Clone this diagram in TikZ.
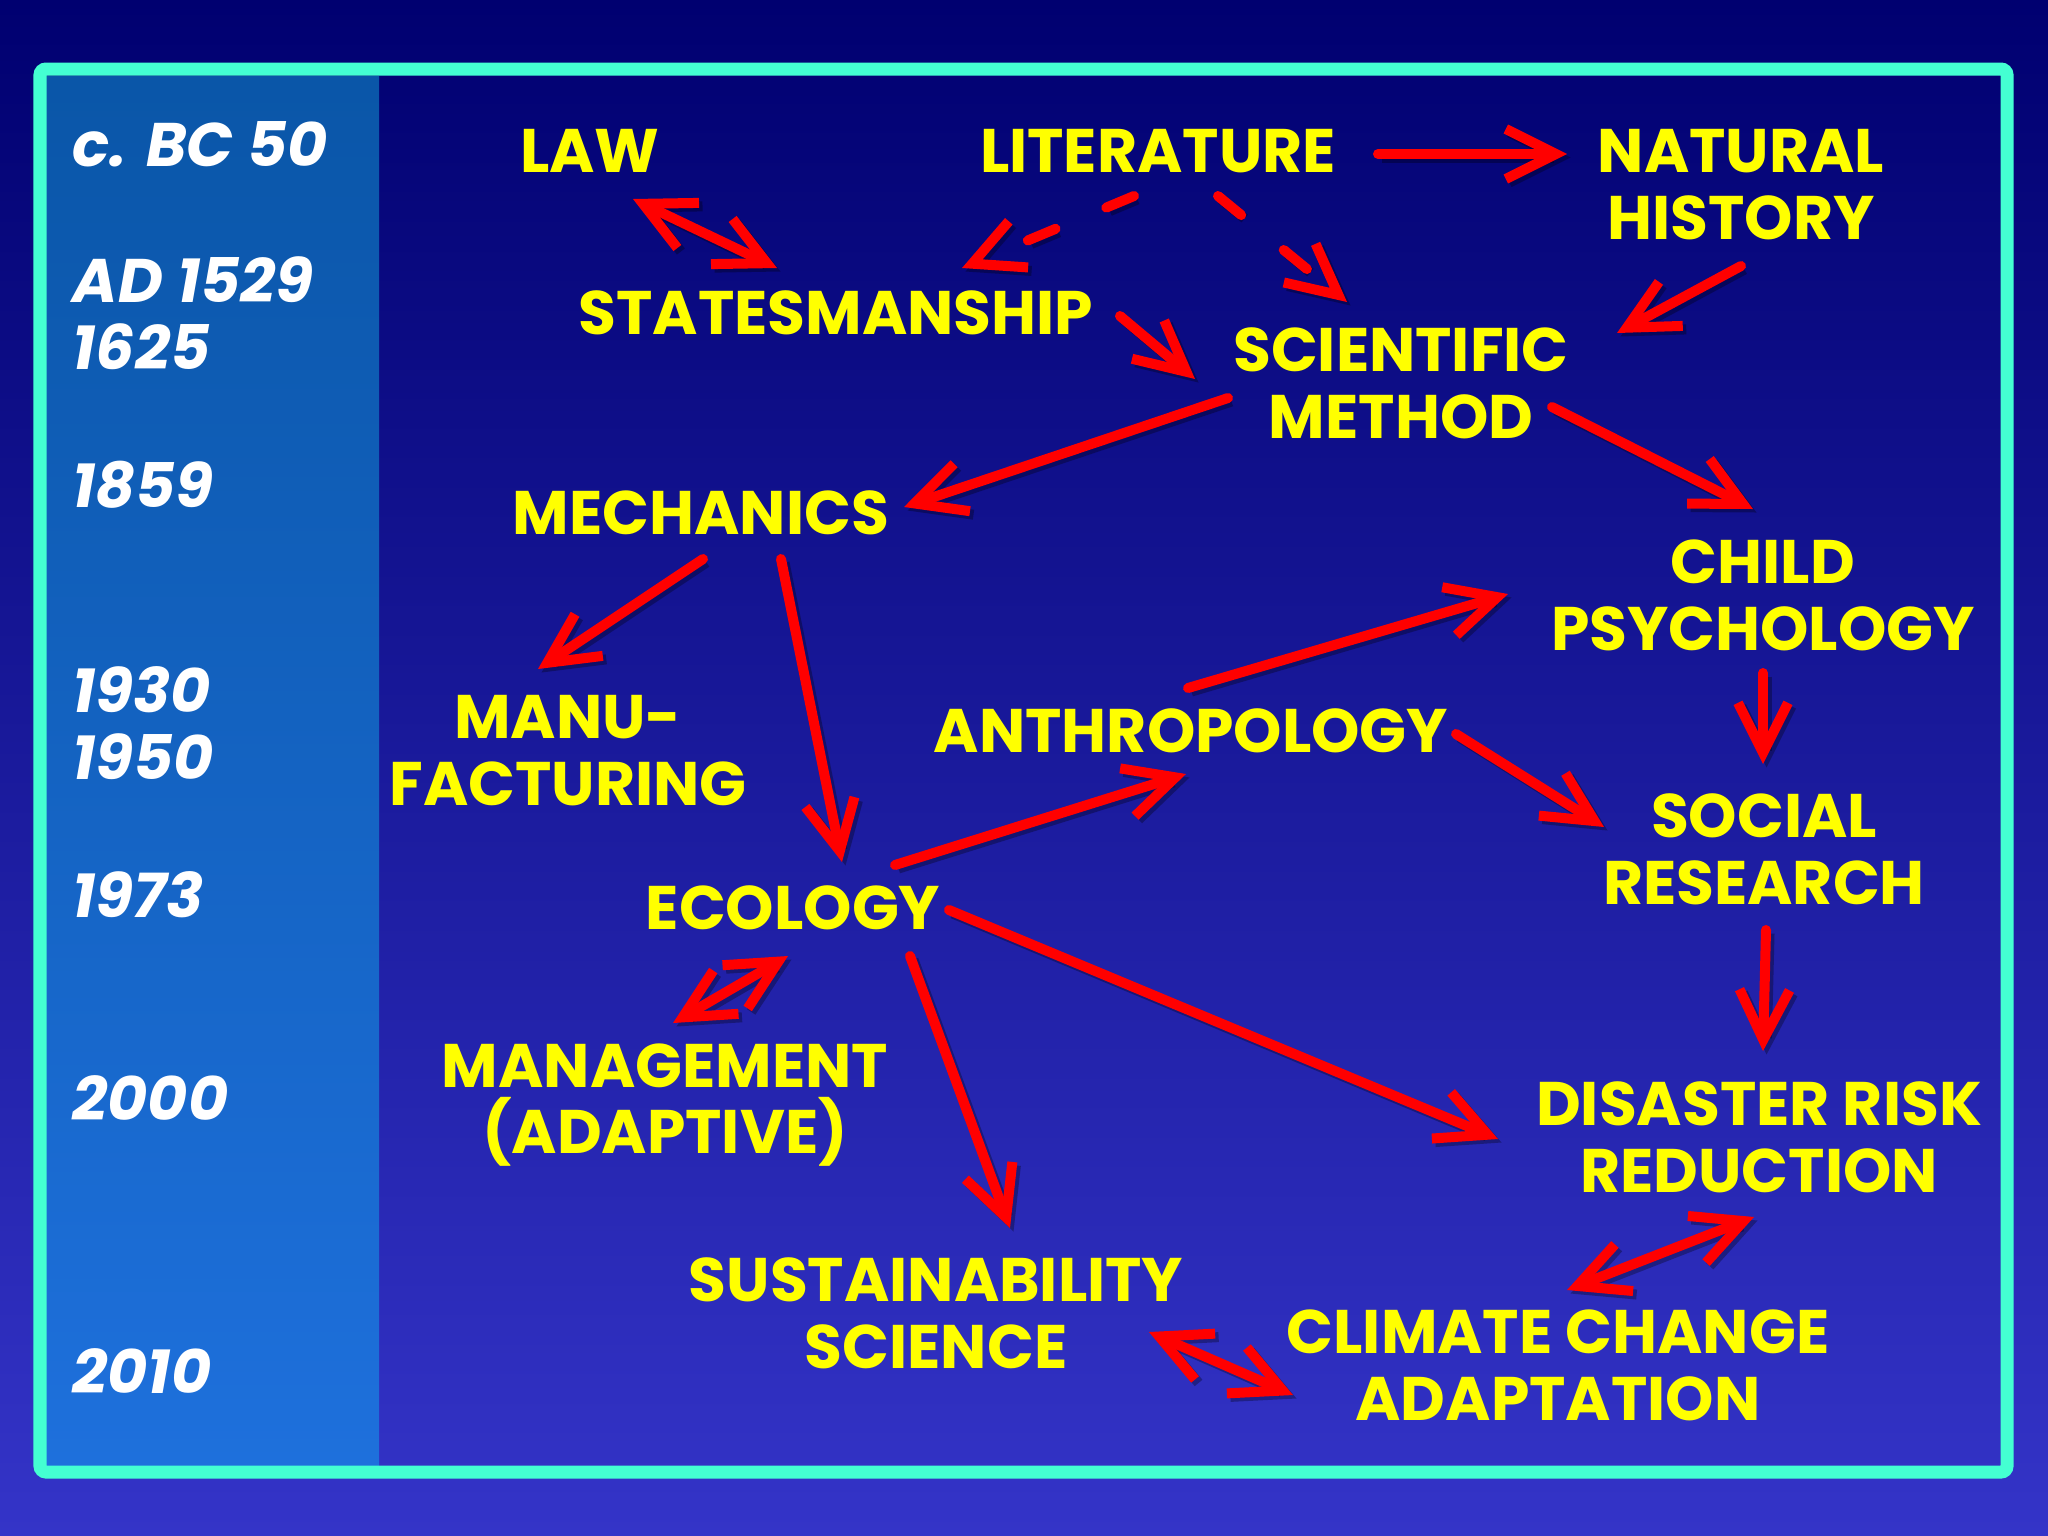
\documentclass[tikz,border=0pt]{standalone}
\usepackage{fontspec}
\setmainfont{Poppins}
\usetikzlibrary{arrows.meta}

\definecolor{slidetop}{HTML}{000070}
\definecolor{slidebot}{HTML}{3434C8}
\definecolor{coltop}{HTML}{0A56A8}
\definecolor{colbot}{HTML}{1E70DC}
\definecolor{framecyan}{HTML}{44FFD2}
\definecolor{topicyellow}{HTML}{FFFF00}
\definecolor{arrowred}{HTML}{FF0000}

\begin{document}
\begin{tikzpicture}[x=0.01cm, y=-0.01cm,
  topic/.style={text=topicyellow, align=center, inner sep=0pt,
    font=\bfseries\fontsize{17.5}{19}\selectfont},
  era/.style={text=white, anchor=west, align=left, inner sep=0pt,
    font=\bfseries\itshape\fontsize{17.5}{19}\selectfont},
  tip/.style={line width=0.1cm, line cap=round,
    -{Straight Barb[length=5mm,width=5mm]}},
  link/.style={tip, draw=arrowred,
    preaction={draw=black, opacity=.3, line width=0.1cm,
      transform canvas={shift={(0.035cm,-0.035cm)}}}},
  both/.style={link, {Straight Barb[length=5mm,width=5mm]}-{Straight Barb[length=5mm,width=5mm]}},
  hint/.style={tip, draw=arrowred, dash pattern=on 3mm off 5.5mm,
    preaction={draw=black, opacity=.3, line width=0.1cm, dash pattern=on 3mm off 5.5mm,
      transform canvas={shift={(0.035cm,-0.035cm)}}}}]
\useasboundingbox (0,0) rectangle (2048,1536);
% slide background and time column
\shade[top color=slidetop, bottom color=slidebot] (0,0) rectangle (2048,1536);
\shade[top color=coltop, bottom color=colbot] (46,76) rectangle (379,1465);
\draw[framecyan, line width=0.13cm, rounded corners=0.06cm] (40,69) rectangle (2007,1472);

% dates
\node[era] (bc50) at (72,144) {c. BC 50};
\node[era] (ad1529) at (72,313) {AD 1529\\1625};
\node[era] (y1859) at (72,485) {1859};
\node[era] (y1930) at (72,723) {1930\\1950};
\node[era] (y1973) at (72,895) {1973};
\node[era] (y2000) at (72,1098) {2000};
\node[era] (y2010) at (72,1371) {2010};

% disciplines
\node[topic] (law) at (590,151) {LAW};
\node[topic] (lit) at (1158,151) {LITERATURE};
\node[topic] (nat) at (1741,185) {NATURAL\\HISTORY};
\node[topic] (state) at (836,313) {STATESMANSHIP};
\node[topic] (sci) at (1401,383) {SCIENTIFIC\\METHOD};
\node[topic] (mech) at (701,513) {MECHANICS};
\node[topic] (child) at (1763,595) {CHILD\\PSYCHOLOGY};
\node[topic] (manu) at (568,751) {MANU-\\FACTURING};
\node[topic] (anth) at (1191,731) {ANTHROPOLOGY};
\node[topic] (soc) at (1764,849) {SOCIAL\\RESEARCH};
\node[topic] (eco) at (793,908) {ECOLOGY};
\node[topic] (mgmt) at (665,1105) {MANAGEMENT\\(ADAPTIVE)};
\node[topic] (drr) at (1759,1137) {DISASTER RISK\\REDUCTION};
\node[topic] (sust) at (936,1313) {SUSTAINABILITY\\SCIENCE};
\node[topic] (cca) at (1558,1365) {CLIMATE CHANGE\\ADAPTATION};

% links
\draw[link] ([shift={(220,3)}]lit.center) -- ([shift={(-174,-31)}]nat.center);
\draw[both] ([shift={(43,48)}]law.center) -- ([shift={(-59,-45)}]state.center);
\draw[hint] ([shift={(-24,45)}]lit.center) -- ([shift={(126,-45)}]state.center);
\draw[hint] ([shift={(60,45)}]lit.center) -- ([shift={(-54,-81)}]sci.center);
\draw[link] ([shift={(284,3)}]state.center) -- ([shift={(-206,-4)}]sci.center);
\draw[link] ([shift={(0,81)}]nat.center) -- ([shift={(216,-50)}]sci.center);
\draw[link] ([shift={(-173,15)}]sci.center) -- ([shift={(203,-6)}]mech.center);
\draw[link] ([shift={(151,24)}]sci.center) -- ([shift={(-10,-86)}]child.center);
\draw[link] ([shift={(2,46)}]mech.center) -- ([shift={(-30,-82)}]manu.center);
\draw[link] ([shift={(80,46)}]mech.center) -- ([shift={(49,-46)}]eco.center);
\draw[link] ([shift={(-3,-43)}]anth.center) -- ([shift={(-255,-1)}]child.center);
\draw[link] ([shift={(0,78)}]child.center) -- ([shift={(-1,-85)}]soc.center);
\draw[link] ([shift={(265,3)}]anth.center) -- ([shift={(-160,-22)}]soc.center);
\draw[link] ([shift={(102,-43)}]eco.center) -- ([shift={(-5,43)}]anth.center);
\draw[both] ([shift={(-5,48)}]eco.center) -- ([shift={(8,-82)}]mgmt.center);
\draw[link] ([shift={(156,2)}]eco.center) -- ([shift={(-261,2)}]drr.center);
\draw[link] ([shift={(117,48)}]eco.center) -- ([shift={(74,-85)}]sust.center);
\draw[link] ([shift={(2,81)}]soc.center) -- ([shift={(4,-86)}]drr.center);
\draw[both] ([shift={(-5,80)}]drr.center) -- ([shift={(9,-75)}]cca.center);
\draw[both] ([shift={(213,19)}]sust.center) -- ([shift={(-265,30)}]cca.center);
\end{tikzpicture}
\end{document}
